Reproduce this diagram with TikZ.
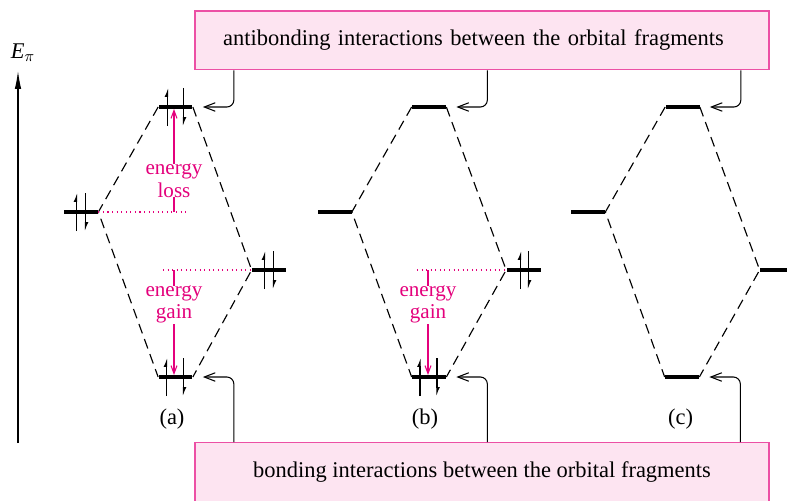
\documentclass[tikz,border=0pt]{standalone}
\usepackage{fontspec}
\setmainfont{Liberation Serif}
\usepackage{tikz}
\usetikzlibrary{arrows, arrows.meta, positioning, calc}

\definecolor{rubine}{RGB}{228,0,124}
\definecolor{notefill}{RGB}{253,228,241}
\definecolor{noteline}{RGB}{236,80,165}

% one up and one down electron on a level
\newcommand{\spinpair}[3]{%
  \draw[spin] ($(#1)+(#2,19)$) -- ++(0,-38);
  \draw[spin] ($(#1)+(#3,-19)$) -- ++(0,38);}

\begin{document}
\begin{tikzpicture}[x=0.02cm, y=-0.02cm, font=\fontsize{12.8}{15}\selectfont,
    level/.style={fill=black, inner sep=0pt, minimum width=0.68cm, minimum height=0.065cm},
    link/.style={line width=0.65pt, dash pattern=on 0.2cm off 0.12cm},
    spin/.style={line width=0.6pt, -{Latex[harpoon, length=0.14cm, width=0.12cm]}},
    pointer/.style={line width=0.6pt, rounded corners=0.14cm, -{Straight Barb[length=0.22cm, width=0.17cm]}, shorten >=0.2cm},
    gap/.style={rubine, line width=0.6pt, -{Straight Barb[length=0.16cm, width=0.12cm]}},
    trace/.style={rubine, line width=0.6pt, dotted},
    tag/.style={text=rubine, fill=white, inner sep=0pt, align=center, font=\fontsize{12}{12.7}\selectfont},
    note/.style={draw=noteline, fill=notefill, line width=0.8pt, minimum width=11.48cm, minimum height=1.18cm}]

\useasboundingbox (0,0) rectangle (787,500);

% energy axis
\coordinate (ebase) at (18,443);
\coordinate (etop) at (18,71);
\node (elabel) at (23,53) {\textit{E}$_\pi$};
\draw[line width=0.6pt, -{Latex[length=0.36cm, width=0.13cm]}] (ebase) -- (etop);

% boxes
\node[note, text width=10.36cm, inner xsep=0.56cm, align=left] (antibox) at (482,40.3) {antibonding interactions between the orbital fragments};
\node[note] (bondbox) at (482,472.2) {bonding interactions between the orbital fragments};

% (a)
\node[level] (aL) at (81,212) {};
\node[level] (aT) at (175.5,107) {};
\node[level] (aR) at (269,270) {};
\node[level] (aB) at (175.5,377) {};
\draw[link] (aT.west) -- (aL.east) -- (aB.west);
\draw[link] (aT.east) -- (aR.west) -- (aB.east);
\spinpair{aL}{-4.5}{4.5}
\spinpair{aT}{-8}{8}
\spinpair{aR}{-4.5}{4.5}
\spinpair{aB}{-9}{8}

% (b)
\node[level] (bL) at (334.5,212) {};
\node[level] (bT) at (429,107) {};
\node[level] (bR) at (523.5,270) {};
\node[level] (bB) at (429,377) {};
\draw[link] (bT.west) -- (bL.east) -- (bB.west);
\draw[link] (bT.east) -- (bR.west) -- (bB.east);
\spinpair{bR}{-3}{5}
\spinpair{bB}{-9}{8}

% (c)
\node[level] (cL) at (588,212) {};
\node[level] (cT) at (682.5,107) {};
\node[level] (cR) at (777,270) {};
\node[level] (cB) at (682,377) {};
\draw[link] (cT.west) -- (cL.east) -- (cB.west);
\draw[link] (cT.east) -- (cR.west) -- (cB.east);

% energy loss / gain
\coordinate (aLossEnd) at (186,212);
\coordinate (aLossFoot) at (174,212);
\draw[trace] (aL.east) -- (aLossEnd);
\draw[gap] (aLossFoot) -- node[tag, pos=0.305] {energy\\loss} (aLossFoot |- aT.south);

\coordinate (aGainEnd) at (163,270);
\coordinate (aGainFoot) at (174,270);
\draw[trace] (aGainEnd) -- (aR.west);
\draw[gap] (aGainFoot) -- node[tag, pos=0.33] {energy\\gain} (aGainFoot |- aB.north);

\coordinate (bGainEnd) at (417,270);
\coordinate (bGainFoot) at (428,270);
\draw[trace] (bGainEnd) -- (bR.west);
\draw[gap] (bGainFoot) -- node[tag, pos=0.33] {energy\\gain} (bGainFoot |- bB.north);

% pointers from the boxes
\draw[pointer] ($(antibox.south -| aT.east)+(41,0)$) |- (aT.east);
\draw[pointer] ($(antibox.south -| bT.east)+(41,0)$) |- (bT.east);
\draw[pointer] ($(antibox.south -| cT.east)+(41,0)$) |- (cT.east);
\draw[pointer] ($(bondbox.north -| aB.east)+(41,0)$) |- (aB.east);
\draw[pointer] ($(bondbox.north -| bB.east)+(41,0)$) |- (bB.east);
\draw[pointer] ($(bondbox.north -| cB.east)+(41,0)$) |- (cB.east);

% labels
\node[below=0.48cm of aB, xshift=-0.07cm] (alabel) {(a)};
\node[below=0.48cm of bB, xshift=-0.08cm] (blabel) {(b)};
\node[below=0.48cm of cB, xshift=-0.03cm] (clabel) {(c)};
\end{tikzpicture}
\end{document}
